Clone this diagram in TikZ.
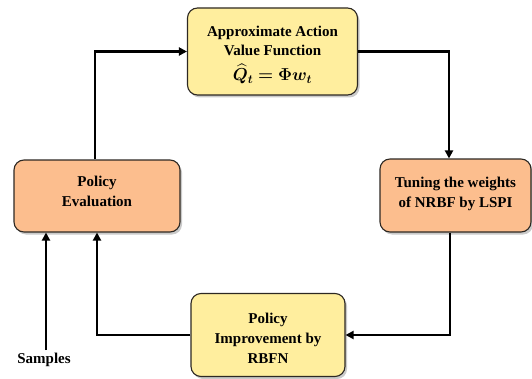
\documentclass[tikz,border=0pt]{standalone}
\usepackage{amsmath}
\usepackage{bm}
\usepackage{fontspec}
\setmainfont{Liberation Serif}
\usetikzlibrary{arrows.meta,shadows}
\definecolor{boxyellow}{RGB}{255,238,158}
\definecolor{boxorange}{RGB}{252,190,142}
\definecolor{edgegrey}{RGB}{45,40,35}
\newcommand{\stacktext}[2]{\raisebox{#1}[\height][\depth]{\begin{tabular}{@{}c@{}}#2\end{tabular}}}
\tikzset{
  stage/.style={draw=edgegrey, line width=1.1pt, rounded corners=10pt, align=center,
    font=\bfseries\fontsize{15}{20}\selectfont, inner sep=0pt,
    drop shadow={shadow xshift=2pt, shadow yshift=-2.5pt, opacity=0.35, fill=black!60}},
  ystage/.style={stage, fill=boxyellow},
  ostage/.style={stage, fill=boxorange},
  flow/.style={line width=2.3pt, draw=black, -{Triangle[length=8pt,width=8pt]}},
}
\begin{document}
\begin{tikzpicture}[x=1pt,y=1pt]
\useasboundingbox (0,0) rectangle (532,378);
\node[ystage, minimum width=170pt, minimum height=87pt] (top) at (272.5,326.5)
  {\stacktext{-3pt}{Approximate Action\\[-1pt]Value Function\\[3pt]{\fontsize{17}{20}\selectfont$\bm{\widehat{Q}_t = \Phi w_t}$}}};
\node[ostage, minimum width=166pt, minimum height=72pt] (pe) at (97,182)
  {\stacktext{4pt}{Policy\\Evaluation}};
\node[ostage, minimum width=151pt, minimum height=73pt] (tune) at (455.5,182.5)
  {\stacktext{2pt}{Tuning the weights\\of NRBF by LSPI}};
\node[ystage, minimum width=154pt, minimum height=83pt] (imp) at (268,43)
  {\stacktext{-4pt}{Policy\\Improvement by\\RBFN}};
\node[font=\bfseries\fontsize{15}{16}\selectfont, inner sep=1pt] (samples) at (44,18) {Samples};
\draw[flow] ([xshift=-2pt]pe.north) |- (top.west);
\draw[flow] (top.east) -| ([xshift=-6.5pt]tune.north);
\draw[flow] ([xshift=-5.5pt]tune.south) |- (imp.east);
\draw[flow] (imp.west) -| (pe.south);
\draw[flow] ([xshift=2pt,yshift=2pt]samples.north) -- ([xshift=2pt]samples.north |- pe.south);
\end{tikzpicture}
\end{document}
